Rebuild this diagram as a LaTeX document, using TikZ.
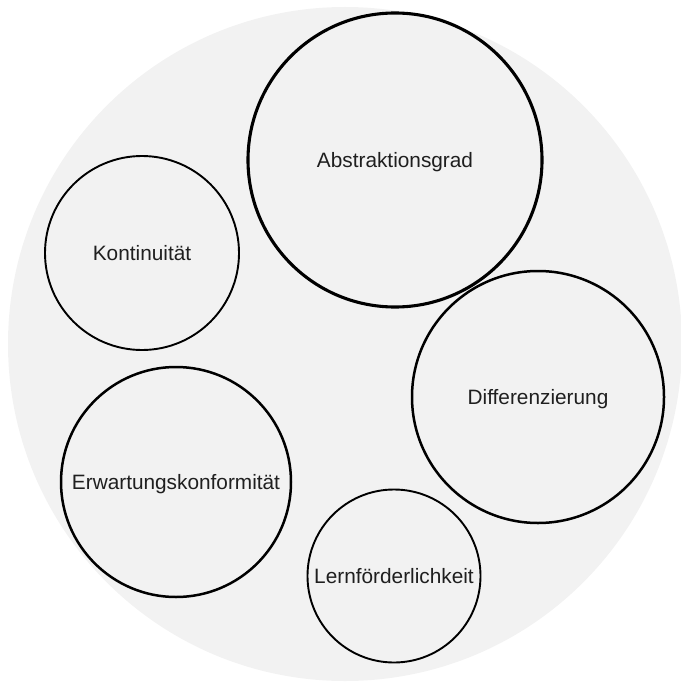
\documentclass[tikz,border=0pt]{standalone}
\usepackage{fontspec}
\setmainfont{Liberation Sans}
\usepackage{xcolor}
\usepackage{tikz}

\begin{document}
\begin{tikzpicture}[x=1pt,y=-1pt,font=\fontsize{20.8}{24}\selectfont,
   bubble/.style={draw=black,circle,inner sep=0pt,line width=1.9pt,
                  text=black!88,text depth=0pt,align=center},
   bigbubble/.style={bubble,line width=2.5pt},
   mainbubble/.style={bubble,line width=3.1pt}]
  \useasboundingbox (0,0) rectangle (680,682);
  \fill[black!5] (345,344) circle[radius=337];
  \node[mainbubble,minimum size=294pt] (abstr) at (395,160) {Abstraktionsgrad};
  \node[bubble,minimum size=194pt] (kont) at (142,253) {Kontinuität};
  \node[bigbubble,minimum size=252pt] (diff) at (538,397) {Differenzierung};
  \node[bigbubble,minimum size=230pt] (erw) at (176,482) {Erwartungskonformität};
  \node[bubble,minimum size=173pt] (lern) at (394,576) {Lernförderlichkeit};
\end{tikzpicture}
\end{document}
